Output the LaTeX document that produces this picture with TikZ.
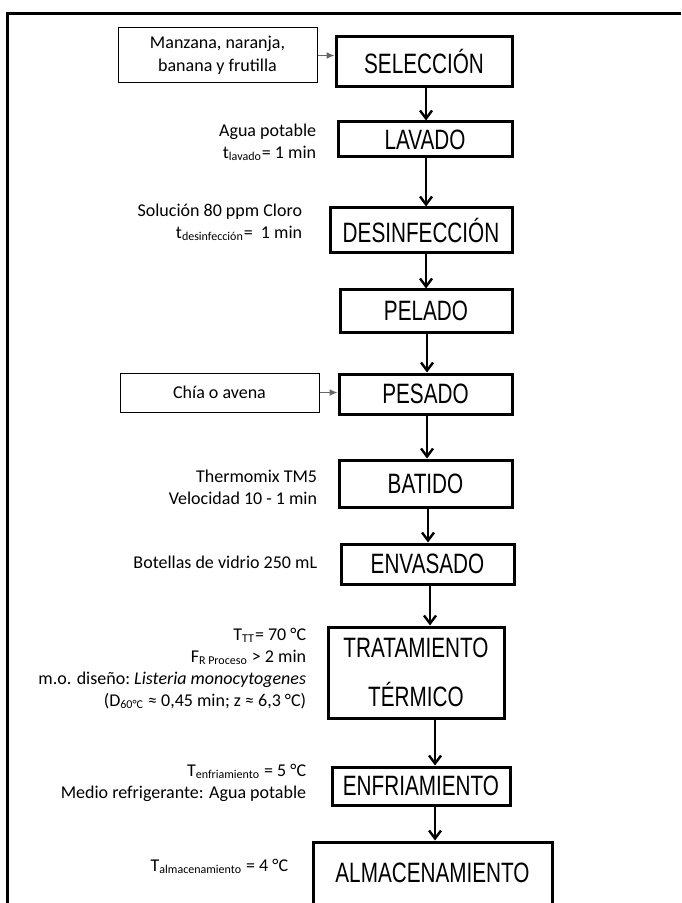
\documentclass[tikz,border=0pt]{standalone}
\usepackage{fontspec}
\setmainfont{Carlito}
\newfontfamily\boxfont{Liberation Sans}[FakeStretch=0.74]
\usetikzlibrary{positioning,arrows.meta}
\newcommand{\sbs}[1]{\textsubscript{#1}}
\begin{document}
\begin{tikzpicture}[x=0.5pt,y=-0.5pt,st/.style={draw,line width=1.5pt,align=center,inner sep=0pt,font=\boxfont\fontsize{14}{17}\selectfont},inp/.style={draw,line width=0.5pt,align=center,inner sep=0pt,font=\fontsize{9}{11.5}\selectfont},lbl/.style={align=right,inner sep=0pt,font=\fontsize{9}{11}\selectfont},a/.style={line width=1.2pt,-{Straight Barb[length=4pt,width=6pt]}},ai/.style={line width=0.6pt,draw=black!60,-{Latex[length=4pt,width=3.5pt]}}]
\useasboundingbox (0,0) rectangle (681,903);
\draw[line width=1.5pt] (7,910) -- (7,14) -- (681,14);
\node[st,minimum width=88pt,minimum height=25pt](sel) at (424,62){SELECCIÓN};
\node[st,minimum width=87pt,minimum height=17.5pt](lav) at (425,139.5){LAVADO};
\node[st,minimum width=91pt,minimum height=22.5pt](des) at (421,230.5){DESINFECCIÓN};
\node[st,minimum width=86pt,minimum height=21pt](pel) at (426,311){PELADO};
\node[st,minimum width=86.5pt,minimum height=20pt](pes) at (425.5,394){PESADO};
\node[st,minimum width=86.5pt,minimum height=23.5pt](bat) at (425.5,483.5){BATIDO};
\node[st,minimum width=86.5pt,minimum height=20pt](env) at (427.5,564){ENVASADO};
\node[st,minimum width=88pt,minimum height=45.5pt,font=\boxfont\fontsize{14}{24.5}\selectfont](tra) at (416,672.5){TRATAMIENTO\\TÉRMICO};
\node[st,minimum width=89pt,minimum height=19pt](enf) at (421,786){ENFRIAMIENTO};
\node[st,minimum width=119.5pt,minimum height=31pt](alm) at (432.5,873){ALMACENAMIENTO};
\node[inp,minimum width=99.5pt,minimum height=27.5pt](fru) at (217.5,55.5){Manzana, naranja,\\banana y frutilla};
\node[inp,minimum width=99.5pt,minimum height=19.5pt](chia) at (219.5,392.5){Chía o avena};
\node[lbl,left=10pt of lav,yshift=-1.25pt](lavl){Agua potable\\t\sbs{lavado}= 1 min};
\node[lbl,left=13pt of des,yshift=4pt](desl){Solución 80 ppm Cloro\\t\sbs{desinfección}=\ \ 1 min};
\node[lbl,left=10pt of bat,yshift=-2pt](batl){Thermomix TM5\\Velocidad 10 - 1 min};
\node[lbl,left=11pt of env,yshift=1pt](envl){Botellas de vidrio 250 mL};
\node[lbl,left=10pt of tra,yshift=2pt](tral){T\sbs{TT}= 70 °C\\F\sbs{R Proceso} > 2 min\\m.o. diseño:\ \textit{Listeria monocytogenes}\\(D\sbs{60°C} ≈ 0,45 min; z ≈ 6,3 °C)};
\node[lbl,left=12pt of enf,yshift=1.75pt](enfl){T\sbs{enfriamiento} = 5 °C\\Medio refrigerante: Agua potable};
\node[lbl,left=11.5pt of alm,yshift=3.5pt](alml){T\sbs{almacenamiento} = 4 °C};
\foreach \p/\q/\d in {sel/lav/1pt,lav/des/0.5pt,des/pel/2.5pt,pel/pes/0.5pt,pes/bat/0.75pt,bat/env/1.25pt,env/tra/1.25pt,tra/enf/9.5pt,enf/alm/7pt}\draw[a]([xshift=\d]\p.south)coordinate(s)--(s|-\q.north);
\draw[ai](fru.east)--(fru.east-|sel.west);
\draw[ai](chia.east)--(chia.east-|pes.west);
\end{tikzpicture}
\end{document}
